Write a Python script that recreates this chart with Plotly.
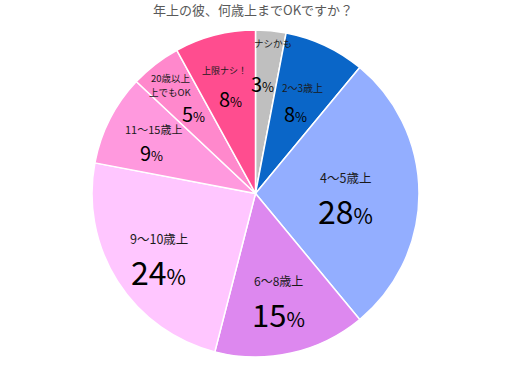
import math
import plotly.graph_objects as go

# ---- data ----
categories = ["ナシかも", "2〜3歳上", "4〜5歳上", "6〜8歳上", "9〜10歳上", "11〜15歳上", "20歳以上<br>上でもOK", "上限ナシ！"]
values = [3, 8, 28, 15, 24, 9, 5, 8]
title_text = "年上の彼、何歳上までOKですか？"

# ---- styles ----
colors = ["#bfbfbf", "#0a66c8", "#93aeff", "#dd88ef", "#ffc6ff", "#ff99de", "#ff88cc", "#ff4d8f"]
label_frac = [0.80, 0.63, 0.55, 0.65, 0.70, 0.71, 0.73, 0.69]   # radial position of label block
label_gap = [40, 26, 33, 33, 33, 23, 28, 28]                     # px between label and percent
label_dx = [5, 3.5, 0, 0, 0, 1, -11.5, -3]                        # px horizontal shift label vs percent
label_size = [9.5, 10, 12.5, 12, 12.5, 11, 9.5, 9]
pct_size = [20, 20, 32, 31, 32, 20, 20, 20]

W, H = 514, 370
dom_x = [91 / W, 420 / W]
dom_y = [1 - 357 / H, 1 - 30 / H]

fig = go.Figure(go.Pie(
    labels=categories, values=values, sort=False, direction="clockwise", rotation=0,
    marker=dict(colors=colors, line=dict(color="white", width=1.5)),
    textinfo="none", hoverinfo="label+percent", showlegend=False,
    domain=dict(x=dom_x, y=dom_y),
))

cx = (dom_x[0] + dom_x[1]) / 2 * W
cy = (1 - (dom_y[0] + dom_y[1]) / 2) * H
R = min((dom_x[1] - dom_x[0]) * W, (dom_y[1] - dom_y[0]) * H) / 2

total = sum(values)
cum = 0
font_family = "Noto Sans CJK JP"
for i, v in enumerate(values):
    mid = (cum + v / 2) / total * 2 * math.pi
    cum += v
    r = label_frac[i] * R
    px = cx + r * math.sin(mid)
    py = cy - r * math.cos(mid)
    g = label_gap[i]
    # category label (one annotation per line)
    lines = categories[i].split("<br>")
    n = len(lines)
    step = label_size[i] * 1.5
    for k, line in enumerate(lines):
        ly = py - g / 2 + (k - (n - 1) / 2) * step
        fig.add_annotation(x=(px + label_dx[i]) / W, y=1 - ly / H, xref="paper", yref="paper",
                           text=line, showarrow=False, xanchor="center", yanchor="middle",
                           borderpad=0,
                           font=dict(family=font_family, size=label_size[i], color="#1a1a1a"))
    # percentage
    ps = pct_size[i]
    txt = f"{v}<span style='font-size:{round(ps*0.65)}px'>%</span>"
    fig.add_annotation(x=(px - label_dx[i]) / W, y=1 - (py + g / 2) / H, xref="paper", yref="paper",
                       text=txt, showarrow=False, xanchor="center", yanchor="middle",
                       borderpad=0,
                       font=dict(family=font_family, size=ps, color="#000000"))

fig.add_annotation(x=253 / W, y=1 - 10 / H, xref="paper", yref="paper", text=title_text,
                   showarrow=False, xanchor="center", yanchor="middle",
                   font=dict(family=font_family, size=13, color="#595959"))

fig.update_layout(width=W, height=H, margin=dict(l=0, r=0, t=0, b=0),
                  paper_bgcolor="white", plot_bgcolor="white")
fig.write_html("out.html")
